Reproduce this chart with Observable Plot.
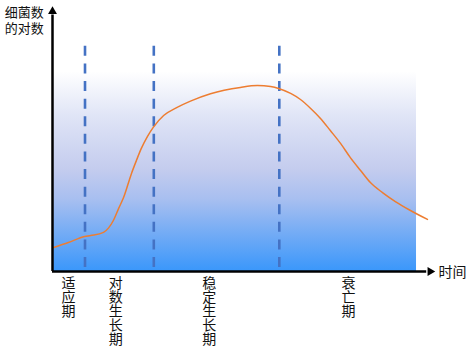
<!DOCTYPE html>
<html>
<head>
<meta charset="utf-8">
<script src="https://cdn.jsdelivr.net/npm/d3@7"></script>
<script src="https://cdn.jsdelivr.net/npm/@observablehq/plot@0.6"></script>
<style>
  html, body { margin: 0; padding: 0; background: #ffffff; }
  #chart svg { display: block; }
</style>
</head>
<body>
<div id="chart"></div>
<script>
// ---- data (time in arbitrary units 0..100, log count in arbitrary units 0..100) ----
const curveT = [0.3, 4.2, 8.5, 10.1, 13.5, 14.8, 16.1, 17.5, 18.8, 20.9, 22.2, 23.5, 25.1, 26.7, 29.4, 33.1, 36.5, 41.8, 49.7, 54.2, 57.7, 59.8, 63.0, 65.6, 68.3, 70.9, 73.5, 76.2, 78.8, 81.5, 84.1, 87.3, 90.7, 94.7, 99.2];
const curveY = [9.1, 11.0, 13.3, 13.7, 14.9, 16.5, 19.4, 24.0, 28.1, 37.3, 42.2, 46.8, 51.3, 54.9, 59.3, 62.5, 64.8, 67.6, 70.0, 70.7, 70.3, 69.6, 67.7, 65.4, 62.0, 58.2, 53.6, 48.7, 43.3, 38.4, 33.8, 30.0, 26.6, 23.2, 19.8];
const phaseBoundaries = [8.6, 26.8, 60.0];
const phaseNames = ["适应期", "对数生长期", "稳定生长期", "衰亡期"];
const phaseLabelT = [4.2, 16.7, 41.5, 78.3];
const yAxisLabel = ["细菌数", "的对数"];
const xAxisLabel = "时间";

const curve = curveT.map((t, i) => ({t, y: curveY[i]}));
const phases = phaseNames.map((name, i) => ({name: name.split("").join("\n"), t: phaseLabelT[i]}));

const svg = Plot.plot({
  width: 472,
  height: 357,
  marginLeft: 52,
  marginRight: 42,
  marginTop: 8,
  marginBottom: 86,
  style: {background: "#ffffff", fontFamily: "'Noto Sans CJK SC', 'Noto Sans', sans-serif"},
  x: {domain: [0, 100], axis: null},
  y: {domain: [0, 100], axis: null},
  marks: [
    // gradient background
    Plot.rect([{x1: 0.3, x2: 96.3, y1: 0, y2: 76}], {x1: "x1", x2: "x2", y1: "y1", y2: "y2", fill: "url(#bgGrad)"}),
    // phase boundaries
    Plot.ruleX(phaseBoundaries, {y1: 85.6, y2: 0, stroke: "#4472c4", strokeWidth: 2.6, strokeDasharray: "10,7.6"}),
    // growth curve
    Plot.line(curve, {x: "t", y: "y", stroke: "#ed7d31", strokeWidth: 1.5, curve: "monotone-x"}),
    // axes
    Plot.ruleX([0], {y1: 0, y2: 97.5, stroke: "#000", strokeWidth: 2.5}),
    Plot.ruleY([0], {x1: 0, x2: 99, stroke: "#000", strokeWidth: 2.5}),
    Plot.dot([{t: 0, y: 98.9}], {x: "t", y: "y", symbol: "triangle", r: 3.3, fill: "#000", stroke: null}),
    Plot.dot([{t: 99.9, y: 0}], {x: "t", y: "y", symbol: "triangle", r: 3.3, fill: "#000", stroke: null, rotate: 90}),
    // labels
    Plot.text(yAxisLabel, {x: -12.6, y: [98.2, 92.2], text: d => d, textAnchor: "start", fontSize: 13, fill: "#111"}),
    Plot.text([xAxisLabel], {x: 102.1, y: -0.3, text: d => d, textAnchor: "start", fontSize: 14, fill: "#111"}),
    Plot.text(phases, {x: "t", y: -2.6, text: "name", lineAnchor: "top", fontSize: 14, lineHeight: 1.0, fill: "#111"})
  ]
});

const ns = "http://www.w3.org/2000/svg";
const defs = document.createElementNS(ns, "defs");
const grad = document.createElementNS(ns, "linearGradient");
grad.setAttribute("id", "bgGrad");
grad.setAttribute("x1", "0"); grad.setAttribute("y1", "0");
grad.setAttribute("x2", "0"); grad.setAttribute("y2", "1");
[[0, "#ffffff"], [0.23, "#dfe4f6"], [0.49, "#c4ccee"], [0.64, "#a8bff0"], [0.78, "#7dafF4"], [1, "#3a97fb"]].forEach(([o, c]) => {
  const s = document.createElementNS(ns, "stop");
  s.setAttribute("offset", o);
  s.setAttribute("stop-color", c);
  grad.appendChild(s);
});
defs.appendChild(grad);
svg.insertBefore(defs, svg.firstChild);

document.getElementById("chart").appendChild(svg);
</script>
</body>
</html>
